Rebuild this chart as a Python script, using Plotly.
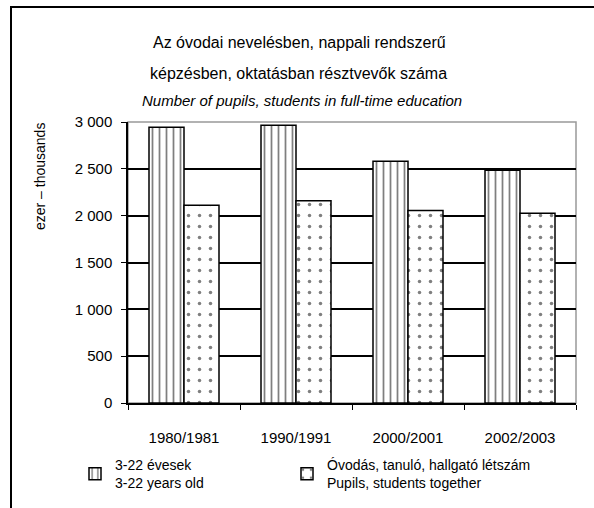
import plotly.graph_objects as go

categories = ["1980/1981", "1990/1991", "2000/2001", "2002/2003"]
age_3_22 = [2945, 2965, 2580, 2485]
pupils_total = [2110, 2160, 2055, 2025]
name_age = "3-22 évesek<br>3-22 years old"
name_pupils = "Óvodás, tanuló, hallgató létszám<br>Pupils, students together"
title_hu_1 = "Az óvodai nevelésben, nappali rendszerű"
title_hu_2 = "képzésben, oktatásban résztvevők száma"
title_en = "Number of pupils, students in full-time education"
y_title = "ezer – thousands"

FONT = "Liberation Sans, Arial, sans-serif"

fig = go.Figure()
fig.add_trace(go.Bar(
    x=categories, y=age_3_22, name=name_age, legend="legend",
    marker=dict(color="white", line=dict(color="black", width=1.5),
                pattern=dict(shape="|", fgcolor="black", bgcolor="white", size=7, solidity=0.25)),
))
fig.add_trace(go.Bar(
    x=categories, y=pupils_total, name=name_pupils, legend="legend2",
    marker=dict(color="white", line=dict(color="black", width=1.5),
                pattern=dict(shape=".", fgcolor="black", bgcolor="white", size=11, solidity=0.08)),
))

L, R, T, B = 128, 18, 122, 105
W, H = 594, 508
pw, ph = W - L - R, H - T - B

def px(x):
    return (x - L) / pw

def py(y):
    return (H - B - y) / ph

legend_common = dict(orientation="v", xanchor="left", yanchor="top",
                     font=dict(family=FONT, size=14), bgcolor="rgba(0,0,0,0)",
                     itemclick=False, itemdoubleclick=False)

fig.update_layout(
    width=W, height=H,
    margin=dict(l=L, r=R, t=T, b=B, autoexpand=False),
    paper_bgcolor="white", plot_bgcolor="white",
    barmode="group", bargap=0.375, bargroupgap=0,
    separators=", ",
    font=dict(family=FONT, size=15, color="black"),
    showlegend=True,
    legend=dict(x=px(75), y=py(449), **legend_common),
    legend2=dict(x=px(287), y=py(449), **legend_common),
    xaxis=dict(type="category", showline=True, linecolor="black", linewidth=1.5,
               ticks="outside", ticklen=5, tickcolor="black", tickson="boundaries",
               tickfont=dict(family=FONT, size=15), showgrid=False, ticklabelstandoff=20),
    yaxis=dict(range=[0, 3000], dtick=500, tickformat=",d", showline=True, linecolor="black",
               linewidth=1.5, ticks="outside", ticklen=5, tickcolor="black",
               showgrid=True, gridcolor="black", gridwidth=1.5, ticklabelstandoff=6,
               tickfont=dict(family=FONT, size=15), zeroline=False),
    shapes=[
        dict(type="rect", xref="paper", yref="paper", x0=0, x1=1, y0=0, y1=1,
             line=dict(color="#999999", width=1.5), layer="below"),
        dict(type="rect", xref="paper", yref="paper", x0=px(11), x1=px(600), y0=py(7), y1=py(520),
             line=dict(color="black", width=2)),
    ],
    annotations=[
        dict(text=title_hu_1, xref="paper", yref="paper", x=px(299), y=py(42), showarrow=False,
             font=dict(family=FONT, size=16), xanchor="center", yanchor="middle"),
        dict(text=title_hu_2, xref="paper", yref="paper", x=px(298), y=py(73), showarrow=False,
             font=dict(family=FONT, size=16), xanchor="center", yanchor="middle"),
        dict(text="<i>" + title_en + "</i>", xref="paper", yref="paper", x=px(302), y=py(101),
             showarrow=False, font=dict(family=FONT, size=15),
             xanchor="center", yanchor="middle"),
        dict(text=y_title, xref="paper", yref="paper", x=px(40), y=py(177), showarrow=False,
             textangle=-90, font=dict(family=FONT, size=14), xanchor="center", yanchor="middle"),
    ],
)

fig.write_html("out.html", config={"displayModeBar": False},
               post_script="document.body.style.margin='0';")
